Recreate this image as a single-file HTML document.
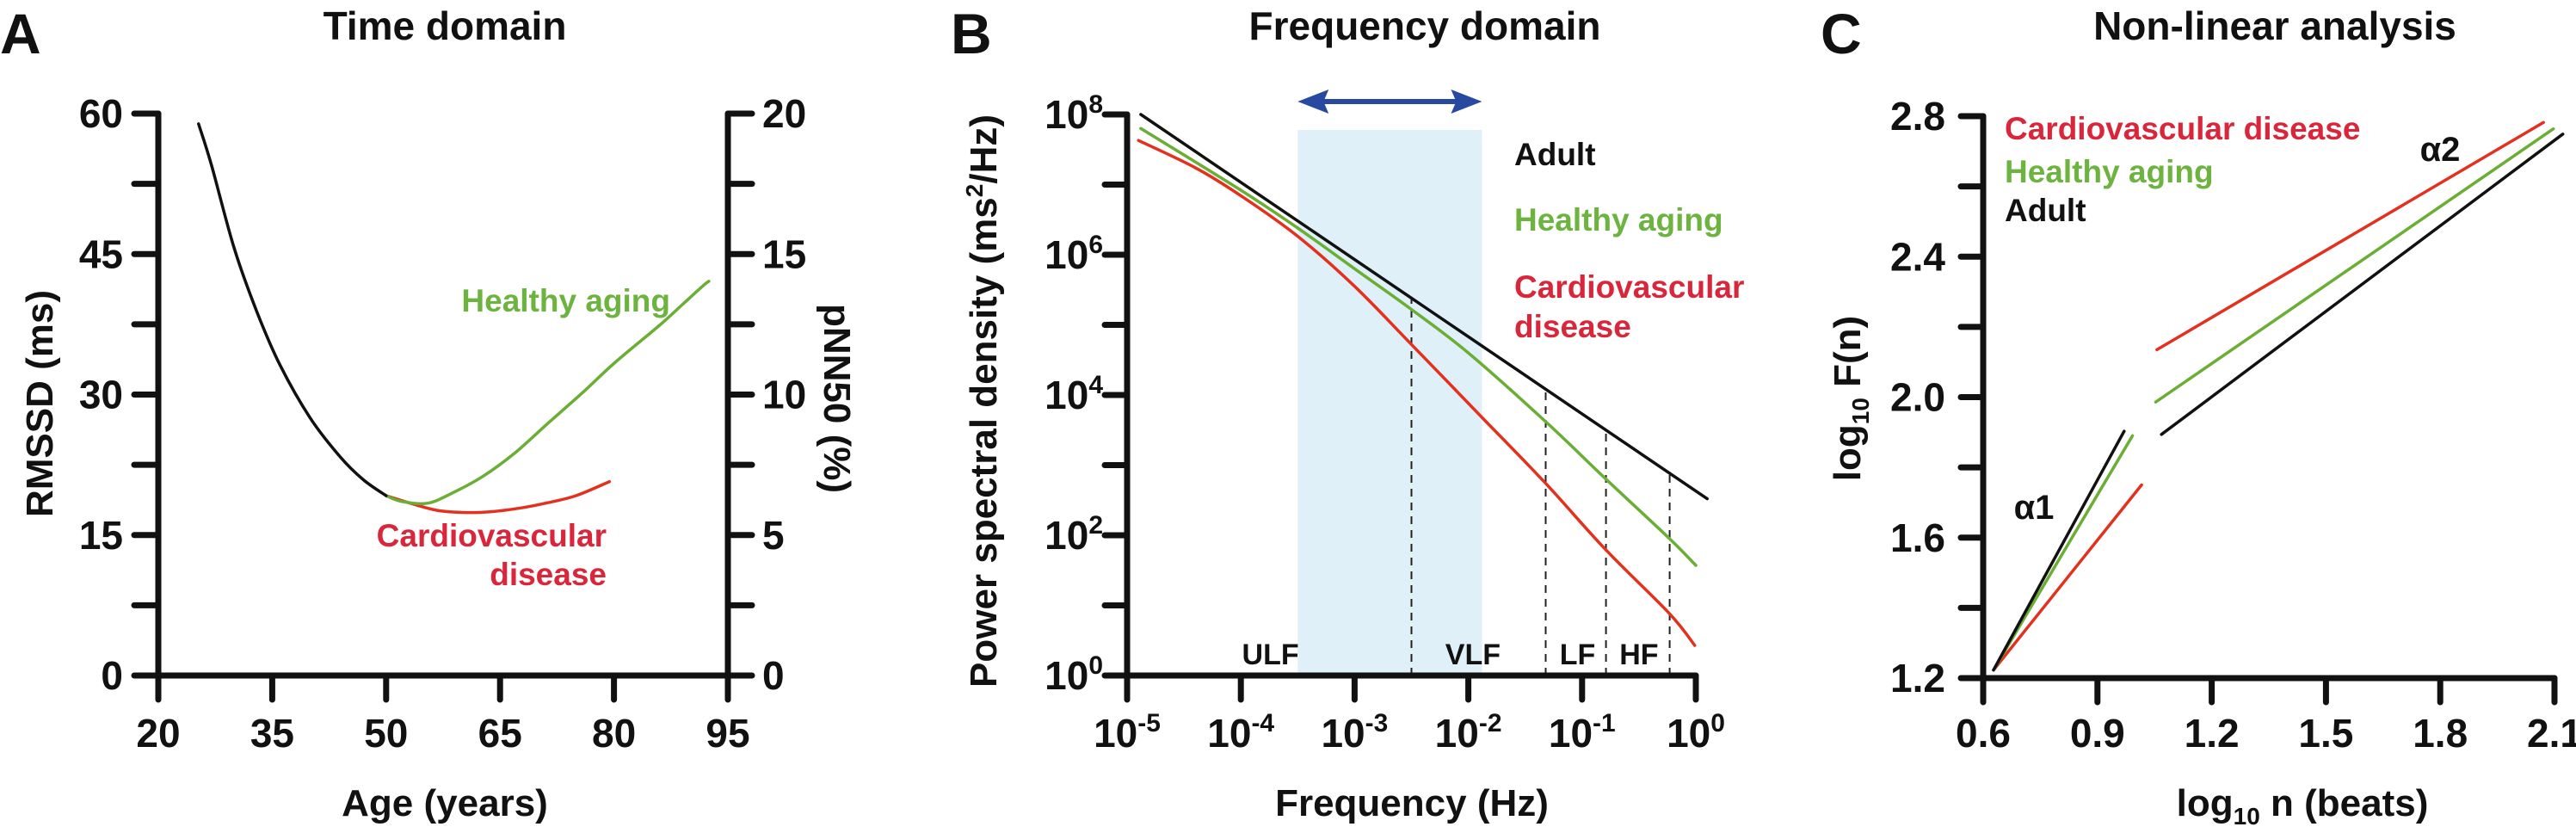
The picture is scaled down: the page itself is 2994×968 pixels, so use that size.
<!DOCTYPE html>
<html><head><meta charset="utf-8"><style>
html,body{margin:0;padding:0;background:#fff;}
svg{display:block;font-family:"Liberation Sans",Arial,sans-serif;font-weight:bold;}
</style></head><body>
<svg id="fig" width="2994" height="968" viewBox="0 0 2994 968" xmlns="http://www.w3.org/2000/svg">
<g id="pa"></g>
<g id="pb"></g>
<g id="pc"></g>
</svg>
<script>
// ---------- Panel A data ----------
const ageTicks = [20, 35, 50, 65, 80, 95];
const rmssdTicks = [0, 15, 30, 45, 60];
const pnnTicks = [0, 5, 10, 15, 20];
const adultAge = [25.3, 27, 30, 33, 36, 40, 44, 47, 50];
const adultRmssd = [58.9, 54.5, 45.6, 38.8, 33.2, 27.5, 23.3, 20.9, 19.2];
const healthyAge = [50, 52, 55.5, 59, 62.8, 67, 71.4, 76, 80.1, 86, 89, 91.7, 92.5];
const healthyRmssd = [19.2, 18.6, 18.4, 19.6, 21.3, 23.8, 27.0, 30.3, 33.4, 37.4, 39.6, 41.6, 42.1];
const cvdAge = [50, 54, 57, 60.6, 64, 67.8, 71, 75, 79.4];
const cvdRmssd = [19.2, 18.2, 17.6, 17.4, 17.5, 17.9, 18.4, 19.2, 20.7];

// ---------- Panel B data ----------
const freqExp = [-5, -4, -3, -2, -1, 0];
const psdExp = [0, 2, 4, 6, 8];
const adultLogF = [-4.88, 0.1];
const adultLogP = [8.0, 2.52];
const healthyLogF = [-4.88, -4.0, -3.5, -3.0, -2.5, -2.0, -1.32, -0.79, -0.23, 0.0];
const healthyLogP = [7.8, 6.92, 6.38, 5.8, 5.22, 4.6, 3.62, 2.8, 1.95, 1.57];
const cvdLogF = [-4.9, -4.4, -3.98, -3.49, -3.0, -2.5, -1.88, -1.32, -0.79, -0.23, -0.01];
const cvdLogP = [7.63, 7.24, 6.82, 6.25, 5.55, 4.72, 3.68, 2.74, 1.79, 0.88, 0.43];
const bandLogF = [-2.5, -1.32, -0.79, -0.23];
const shadeLogF = [-3.5, -1.88];
const bandNames = ["ULF", "VLF", "LF", "HF"];
const bandLabelLogF = [-3.74, -1.96, -1.04, -0.5];

// ---------- Panel C data ----------
const nTicks = [0.6, 0.9, 1.2, 1.5, 1.8, 2.1];
const fTicks = [1.2, 1.6, 2.0, 2.4, 2.8];
const adultA1X = [0.627, 0.970], adultA1Y = [1.223, 1.903];
const healthyA1X = [0.627, 0.992], healthyA1Y = [1.223, 1.890];
const cvdA1X = [0.627, 1.016], cvdA1Y = [1.223, 1.750];
const adultA2X = [1.068, 2.122], adultA2Y = [1.894, 2.749];
const healthyA2X = [1.053, 2.097], healthyA2Y = [1.986, 2.764];
const cvdA2X = [1.056, 2.071], cvdA2Y = [2.135, 2.782];

const NS = "http://www.w3.org/2000/svg";
const BLK = "#111", GRN = "#6aae35", RED = "#e2321f", TGRN = "#6db33f", TRED = "#d9263b";
function mk(parent, tag, attrs) {
  const el = document.createElementNS(NS, tag);
  for (const k in attrs) el.setAttribute(k, attrs[k]);
  parent.appendChild(el);
  return el;
}
function txt(parent, x, y, s, size, anchor, fill) {
  const t = mk(parent, "text", {x: x, y: y, "font-size": size, "text-anchor": anchor || "middle", fill: fill || BLK});
  t.textContent = s;
  return t;
}
function poly(parent, xs, ys, fx, fy, color, w) {
  let d = "";
  for (let i = 0; i < xs.length; i++) d += (i ? "L" : "M") + fx(xs[i]).toFixed(1) + "," + fy(ys[i]).toFixed(1);
  return mk(parent, "path", {d: d, fill: "none", stroke: color, "stroke-width": w, "stroke-linejoin": "round", "stroke-linecap": "round"});
}
function smooth(parent, xs, ys, fx, fy, color, w) {
  const P = xs.map((x, i) => [fx(x), fy(ys[i])]);
  let d = "M" + P[0][0] + "," + P[0][1];
  for (let i = 0; i < P.length - 1; i++) {
    const p0 = P[Math.max(i - 1, 0)], p1 = P[i], p2 = P[i + 1], p3 = P[Math.min(i + 2, P.length - 1)];
    const c1 = [p1[0] + (p2[0] - p0[0]) / 6, p1[1] + (p2[1] - p0[1]) / 6];
    const c2 = [p2[0] - (p3[0] - p1[0]) / 6, p2[1] - (p3[1] - p1[1]) / 6];
    d += "C" + c1[0].toFixed(1) + "," + c1[1].toFixed(1) + " " + c2[0].toFixed(1) + "," + c2[1].toFixed(1) + " " + p2[0].toFixed(1) + "," + p2[1].toFixed(1);
  }
  return mk(parent, "path", {d: d, fill: "none", stroke: color, "stroke-width": w, "stroke-linecap": "round"});
}
function line(parent, x1, y1, x2, y2, w, extra) {
  const a = {x1: x1, y1: y1, x2: x2, y2: y2, stroke: BLK, "stroke-width": w, "stroke-linecap": "round"};
  if (extra) for (const k in extra) a[k] = extra[k];
  return mk(parent, "line", a);
}

// ================= Panel A =================
(function () {
  const g = document.getElementById("pa");
  const X0 = 184, X1 = 846, Y0 = 785, Y1 = 132;
  const ax = a => X0 + (a - 20) / 75 * (X1 - X0);
  const ay = v => Y0 - v / 60 * (Y0 - Y1);
  const py = v => Y0 - v / 20 * (Y0 - Y1);
  let t = txt(g, 0, 62, "A", 66, "start");  
  t = txt(g, 517, 46, "Time domain", 46);  
  const axes = mk(g, "g", {});
  
  
  line(axes, X0, Y0, X0, Y1, 7); line(axes, X1, Y0, X1, Y1, 7); line(axes, X0, Y0, X1, Y0, 7);
  ageTicks.forEach(a => {
    line(axes, ax(a), Y0, ax(a), Y0 + 28, 7);
    const l = txt(axes, ax(a), 868, String(a), 46);
     
  });
  for (let v = 0; v <= 60; v += 7.5) line(axes, X0 - 28, ay(v), X0, ay(v), 7);
  for (let v = 0; v <= 20; v += 2.5) line(axes, X1, py(v), X1 + 28, py(v), 7);
  rmssdTicks.forEach(v => {
    const l = txt(axes, 143, ay(v) + 16, String(v), 46, "end");
     
  });
  pnnTicks.forEach(v => {
    const l = txt(axes, 886, py(v) + 16, String(v), 46, "start");
     
  });
  t = txt(g, 517, 948, "Age (years)", 44);  
  t = txt(g, 0, 0, "RMSSD (ms)", 44); t.setAttribute("transform", "translate(61,469) rotate(-90)");
   
  t = txt(g, 0, 0, "pNN50 (%)", 44); t.setAttribute("transform", "translate(958,463) rotate(90)");
   
  let c = smooth(g, cvdAge, cvdRmssd, ax, ay, RED, 3.5);  
  c = smooth(g, healthyAge, healthyRmssd, ax, ay, GRN, 3.5);  
  c = smooth(g, adultAge, adultRmssd, ax, ay, BLK, 3.5);  
  t = txt(g, 779, 362, "Healthy aging", 37, "end", TGRN);  
  t = txt(g, 705, 635, "Cardiovascular", 37, "end", TRED);  
  t = txt(g, 705, 680, "disease", 37, "end", TRED);  
})();

// ================= Panel B =================
(function () {
  const g = document.getElementById("pb");
  const X0 = 1310, X1 = 1971, Y0 = 785, Y1 = 133;
  const bx = e => X0 + (e + 5) / 5 * (X1 - X0);
  const by = e => Y0 - e / 8 * (Y0 - Y1);
  const adultAt = f => adultLogP[0] + (f - adultLogF[0]) * (adultLogP[1] - adultLogP[0]) / (adultLogF[1] - adultLogF[0]);
  let t = txt(g, 1105, 62, "B", 66, "start");  
  t = txt(g, 1656, 46, "Frequency domain", 46);  
  const sh = mk(g, "rect", {x: bx(shadeLogF[0]), y: 151, width: bx(shadeLogF[1]) - bx(shadeLogF[0]), height: Y0 - 151, fill: "#e0f0f8"});
   
  const ar = mk(g, "g", {});  
  const ax0 = bx(shadeLogF[0]), ax1 = bx(shadeLogF[1]), ayy = 118;
  mk(ar, "line", {x1: ax0 + 20, y1: ayy, x2: ax1 - 20, y2: ayy, stroke: "#2849a0", "stroke-width": 6});
  mk(ar, "polygon", {points: `${ax0},${ayy} ${ax0 + 36},${ayy - 14} ${ax0 + 30},${ayy} ${ax0 + 36},${ayy + 14}`, fill: "#2849a0"});
  mk(ar, "polygon", {points: `${ax1},${ayy} ${ax1 - 36},${ayy - 14} ${ax1 - 30},${ayy} ${ax1 - 36},${ayy + 14}`, fill: "#2849a0"});
  bandLogF.forEach(f => {
    const d = line(g, bx(f), Y0, bx(f), by(adultAt(f)), 2, {"stroke-dasharray": "9,7", "stroke-linecap": "butt", stroke: "#222"});
     
  });
  bandNames.forEach((n, i) => {
    const l = txt(g, bx(bandLabelLogF[i]), 772, n, 34);
     
  });
  const axes = mk(g, "g", {});  
  line(axes, X0, Y0, X0, Y1, 7); line(axes, X0, Y0, X1, Y0, 7);
  freqExp.forEach(e => {
    line(axes, bx(e), Y0, bx(e), Y0 + 28, 7);
    const l = txt(axes, bx(e), 868, "", 46);
    l.innerHTML = "10<tspan font-size='30' dy='-18'>" + (e === 0 ? "0" : e) + "</tspan>";
     
  });
  for (let e = 0; e <= 8; e++) line(axes, X0 - 26, by(e), X0, by(e), 7);
  psdExp.forEach(e => {
    const l = txt(axes, 1282, by(e) + 16, "", 46, "end");
    l.innerHTML = "10<tspan font-size='30' dy='-18'>" + e + "</tspan>";
     
  });
  t = txt(g, 1641, 948, "Frequency (Hz)", 44);  
  t = txt(g, 0, 0, "", 44); t.innerHTML = "Power spectral density (ms<tspan font-size='28' dy='-16'>2</tspan><tspan dy='16'>/Hz)</tspan>";
  t.setAttribute("transform", "translate(1158,466) rotate(-90)");
   
  let c = smooth(g, cvdLogF, cvdLogP, bx, by, RED, 3.5);  
  c = smooth(g, healthyLogF, healthyLogP, bx, by, GRN, 3.5);  
  c = poly(g, adultLogF, adultLogP, bx, by, BLK, 3.5);  
  t = txt(g, 1760, 192, "Adult", 37, "start");  
  t = txt(g, 1760, 268, "Healthy aging", 37, "start", TGRN);  
  t = txt(g, 1760, 346, "Cardiovascular", 37, "start", TRED);  
  t = txt(g, 1760, 392, "disease", 37, "start", TRED);  
})();

// ================= Panel C =================
(function () {
  const g = document.getElementById("pc");
  const X0 = 2305, X1 = 2969, Y0 = 788, Y1 = 135;
  const cx = v => X0 + (v - 0.6) / 1.5 * (X1 - X0);
  const cy = v => Y0 - (v - 1.2) / 1.6 * (Y0 - Y1);
  let t = txt(g, 2116, 62, "C", 66, "start");  
  t = txt(g, 2644, 46, "Non-linear analysis", 46);  
  const axes = mk(g, "g", {});  
  line(axes, X0, Y0, X0, Y1, 7); line(axes, X0, Y0, X1, Y0, 7);
  nTicks.forEach(v => {
    line(axes, cx(v), Y0, cx(v), Y0 + 28, 7);
    const l = txt(axes, cx(v), 868, v.toFixed(1), 46);
     
  });
  for (let v = 1.2; v <= 2.81; v += 0.2) line(axes, X0 - 26, cy(v), X0, cy(v), 7);
  fTicks.forEach(v => {
    const l = txt(axes, 2261, cy(v) + 16, v.toFixed(1), 46, "end");
     
  });
  t = txt(g, 2676, 948, "", 44); t.innerHTML = "log<tspan font-size='28' dy='10'>10</tspan><tspan dy='-10'> n (beats)</tspan>";
   
  t = txt(g, 0, 0, "", 44); t.innerHTML = "log<tspan font-size='28' dy='10'>10</tspan><tspan dy='-10'> F(n)</tspan>";
  t.setAttribute("transform", "translate(2162,463) rotate(-90)");
   
  let c;
  c = poly(g, cvdA1X, cvdA1Y, cx, cy, RED, 3.5);  
  c = poly(g, healthyA1X, healthyA1Y, cx, cy, GRN, 3.5);  
  c = poly(g, adultA1X, adultA1Y, cx, cy, BLK, 3.5);  
  c = poly(g, cvdA2X, cvdA2Y, cx, cy, RED, 3.5);  
  c = poly(g, healthyA2X, healthyA2Y, cx, cy, GRN, 3.5);  
  c = poly(g, adultA2X, adultA2Y, cx, cy, BLK, 3.5);  
  t = txt(g, 2330, 162, "Cardiovascular disease", 37, "start", TRED);  
  t = txt(g, 2330, 212, "Healthy aging", 37, "start", TGRN);  
  t = txt(g, 2330, 257, "Adult", 37, "start");  
  t = txt(g, 2364, 603, "α1", 40);  
  t = txt(g, 2836, 187, "α2", 40);  
})();
</script>
</body></html>
